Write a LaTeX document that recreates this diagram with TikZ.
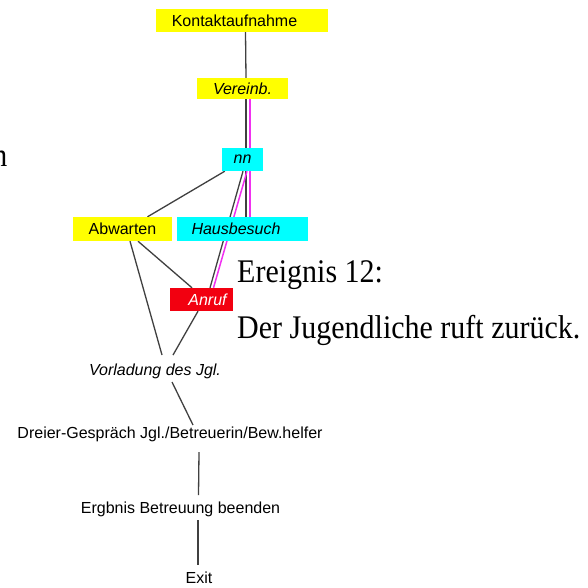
\documentclass[tikz,border=0pt]{standalone}
\usepackage{fontspec}
\setmainfont{Liberation Serif}
\setsansfont{Liberation Sans}
\pgfdeclarelayer{bg}
\pgfdeclarelayer{edges}
\pgfsetlayers{bg,edges,main}
\definecolor{boxyellow}{HTML}{FFFF00}
\definecolor{boxcyan}{HTML}{00FFFF}
\definecolor{boxred}{HTML}{F20010}
\definecolor{linkgray}{HTML}{404040}
\definecolor{linkpink}{HTML}{F030F0}
\begin{document}
\begin{tikzpicture}[x=1pt,y=-1pt,
  flow/.style={draw=linkgray,line width=1.3pt},
  pinkline/.style={draw=linkpink,line width=1.5pt},
  upfont/.style={font=\sffamily\fontsize{16}{19}\selectfont},
  itfont/.style={font=\sffamily\itshape\fontsize{16}{19}\selectfont},
  stepbox/.style={inner sep=0pt,anchor=center},
  steplabel/.style={inner sep=0pt,anchor=base},
  evtext/.style={font=\rmfamily\fontsize{30}{34}\selectfont,inner sep=0pt,yscale=1.1}]

\useasboundingbox (0,0) rectangle (588,587);
\begin{pgfonlayer}{bg}
  \fill[white] (0,0) rectangle (588,587);
\end{pgfonlayer}

% coloured process boxes
\node[stepbox,upfont,fill=boxyellow,minimum width=172pt,minimum height=23pt] (kontakt) at (242,20.5) {Kontaktaufnahme\hspace*{15pt}};
\node[stepbox,itfont,fill=boxyellow,minimum width=91pt,minimum height=21pt] (vereinb) at (242.5,88.5) {Vereinb.};
\node[stepbox,itfont,fill=boxcyan,minimum width=41pt,minimum height=23pt] (nn) at (242.5,159.5) {nn};
\node[stepbox,upfont,fill=boxyellow,minimum width=99pt,minimum height=24pt] (abwarten) at (122.5,229) {Abwarten};
\node[stepbox,itfont,fill=boxcyan,minimum width=131pt,minimum height=24pt] (hausbesuch) at (242.5,229) {Hausbesuch\hspace*{13pt}};
\node[stepbox,itfont,fill=boxred,text=white,minimum width=63pt,minimum height=23pt] (anruf) at (201.5,299.5) {\hspace*{12pt}Anruf};

% plain step labels
\node[steplabel,itfont] (vorladung) at (155,375) {Vorladung des Jgl.};
\node[steplabel,upfont] (dreier) at (170,438) {Dreier-Gespräch Jgl./Betreuerin/Bew.helfer};
\node[steplabel,upfont] (ergbnis) at (180.5,513) {Ergbnis Betreuung beenden};
\node[steplabel,upfont] (exit) at (199,583) {Exit};

% event caption
\node[evtext,anchor=base west] (ereignis) at (237,282) {Ereignis 12:};
\node[evtext,anchor=base west] (jugendlicher) at (237,338) {Der Jugendliche ruft zurück.};
\begin{scope}
  \clip (0,0) rectangle (588,587);
  \node[evtext,anchor=base east] (cut) at (7.5,166) {n};
\end{scope}

% connectors
\begin{pgfonlayer}{edges}
  \draw[flow] ([shift={(3.5,0)}]kontakt.south) -- ([shift={(3.5,0)}]vereinb.north);
  \draw[flow] ([shift={(3.5,0)}]vereinb.south) -- ([shift={(3.5,0)}]nn.north);
  \draw[pinkline] ([shift={(7.5,0)}]vereinb.south) -- ([shift={(7.5,0)}]nn.north);
  \draw[flow] ([shift={(3.5,0)}]nn.south) -- ([shift={(3.5,0)}]hausbesuch.north);
  \draw[pinkline] ([shift={(7.5,0)}]nn.south) -- ([shift={(7.5,0)}]hausbesuch.north);
  \draw[flow] ([shift={(0.5,0)}]nn.south) -- ([shift={(8.5,0)}]anruf.north);
  \draw[pinkline] ([shift={(4.5,0)}]nn.south) -- ([shift={(12,0)}]anruf.north);
  \draw[flow] ([shift={(3,0)}]nn.south west) -- ([shift={(25,0)}]abwarten.north);
  \draw[flow] ([shift={(15.5,0)}]abwarten.south) -- ([shift={(-9.5,0)}]anruf.north);
  \draw[flow] ([shift={(7.5,0)}]abwarten.south) -- ([shift={(7,-20)}]vorladung.base);
  \draw[flow] ([shift={(-3.5,0)}]anruf.south) -- ([shift={(18,-20)}]vorladung.base);
  \draw[flow] ([shift={(17,7)}]vorladung.base) -- ([shift={(23,-13)}]dreier.base);
  \draw[flow] ([shift={(29,14)}]dreier.base) -- ([shift={(18,-18)}]ergbnis.base);
  \draw[flow] ([shift={(17.5,7)}]ergbnis.base) -- ([shift={(-1,-18)}]exit.base);
\end{pgfonlayer}
\end{tikzpicture}
\end{document}
